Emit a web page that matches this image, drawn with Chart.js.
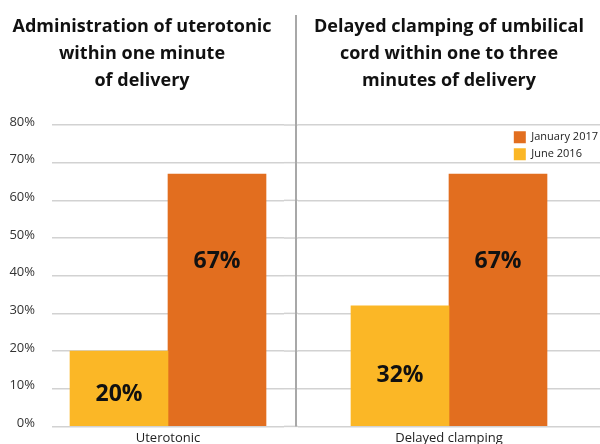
<!DOCTYPE html>
<html lang="en">
<head>
<meta charset="UTF-8">
<title>Uterotonic and delayed clamping</title>
<style>
    body, html {
        margin: 0;
        padding: 0;
        background: #fff;
    }
    #wrap { position: relative; width: 600px; height: 444px; }
    #leftBox { position: absolute; left: 0; top: 0; width: 298px; height: 444px; }
    #rightBox { position: absolute; left: 298px; top: 0; width: 302px; height: 444px; }
</style>
</head>
<body>
<div id="wrap">
    <div id="leftBox"><canvas id="leftChart"></canvas></div>
    <div id="rightBox"><canvas id="rightChart"></canvas></div>
</div>

<script src="https://cdn.jsdelivr.net/npm/chart.js"></script>
<script>
    // data
    const seriesNames = ['June 2016', 'January 2017'];
    const seriesColors = ['#FBB726', '#E26E1F'];
    const categories = ['Uterotonic', 'Delayed clamping'];
    const june2016 = [20, 32];
    const january2017 = [67, 67];
    const yTickValues = [0, 10, 20, 30, 40, 50, 60, 70, 80];
    const leftTitle = ['Administration of uterotonic', 'within one minute', 'of delivery'];
    const rightTitle = ['Delayed clamping of umbilical', 'cord within one to three', 'minutes of delivery'];

    const FONT = '"Open Sans", "DejaVu Sans", sans-serif';
    const GRID = '#d2d2d2';
    Chart.defaults.font.family = FONT;
    Chart.defaults.color = '#222';

    // where the value label sits inside each series' bar (fraction of bar height)
    const labelFractions = [0.42, 0.655];

    const barLabels = {
        id: 'barLabels',
        afterDatasetsDraw(chart) {
            const ctx = chart.ctx;
            const y = chart.scales.y;
            ctx.save();
            ctx.font = 'bold 23px ' + FONT;
            ctx.fillStyle = '#111';
            ctx.textAlign = 'center';
            ctx.textBaseline = 'middle';
            chart.data.datasets.forEach((ds, i) => {
                chart.getDatasetMeta(i).data.forEach((bar, j) => {
                    const v = ds.data[j];
                    ctx.fillText(v + '%', bar.x, y.getPixelForValue(v * labelFractions[i]));
                });
            });
            ctx.restore();
        }
    };

    // grey rule between the two panels; gridlines run on up to it
    const divider = {
        id: 'divider',
        beforeDatasetsDraw(chart) {
            const ctx = chart.ctx;
            const area = chart.chartArea;
            ctx.save();
            ctx.strokeStyle = GRID;
            ctx.lineWidth = 1.5;
            chart.scales.y.ticks.forEach(t => {
                const py = chart.scales.y.getPixelForValue(t.value);
                ctx.beginPath();
                ctx.moveTo(area.right, py);
                ctx.lineTo(chart.width, py);
                ctx.stroke();
            });
            ctx.restore();
        },
        afterDraw(chart) {
            const ctx = chart.ctx;
            ctx.save();
            ctx.strokeStyle = '#a8a8a8';
            ctx.lineWidth = 2;
            ctx.beginPath();
            ctx.moveTo(chart.width - 2, 15);
            ctx.lineTo(chart.width - 2, chart.chartArea.bottom);
            ctx.stroke();
            ctx.restore();
        }
    };

    // push the in-area legend to the top right corner
    const legendRight = {
        id: 'legendRight',
        afterLayout(chart) {
            const lg = chart.legend;
            if (!lg) return;
            lg.left = chart.chartArea.right - lg.width + 8;
            lg.right = chart.chartArea.right + 8;
            lg.top -= 5;
            lg.bottom -= 5;
        }
    };

    function makeDatasets(idx) {
        return [
            { label: seriesNames[0], data: [june2016[idx]], backgroundColor: seriesColors[0] },
            { label: seriesNames[1], data: [january2017[idx]], backgroundColor: seriesColors[1] }
        ];
    }

    function makeOptions(title, showTicks, showLegend) {
        return {
            responsive: true,
            maintainAspectRatio: false,
            animation: false,
            layout: { padding: { left: 0, right: showTicks ? 14 : 0, bottom: -6, top: 0 } },
            datasets: { bar: { barThickness: 98, borderWidth: 0 } },
            plugins: {
                title: {
                    display: true,
                    text: title,
                    color: '#111',
                    font: { size: 18, weight: 'bold', lineHeight: 1.5 },
                    padding: { top: 13, bottom: 31 }
                },
                legend: showLegend ? {
                    display: true,
                    position: 'chartArea',
                    reverse: true,
                    labels: { boxWidth: 12, boxHeight: 12, padding: 5, font: { size: 11 }, color: '#222' }
                } : { display: false },
                tooltip: { enabled: false }
            },
            scales: {
                x: {
                    grid: { display: false, drawTicks: false },
                    border: { display: false },
                    ticks: { font: { size: 13 }, color: '#222', padding: 4 }
                },
                y: {
                    min: 0,
                    max: 80,
                    afterBuildTicks(scale) {
                        scale.ticks = yTickValues.map(v => ({ value: v }));
                    },
                    afterFit(scale) {
                        scale.width = showTicks ? 52 : 0;
                        scale.paddingTop = 0;
                        scale.paddingBottom = 0;
                    },
                    border: { display: false },
                    grid: { color: GRID, lineWidth: 1.5, drawTicks: false },
                    ticks: {
                        display: showTicks,
                        padding: 17,
                        labelOffset: -3,
                        font: { size: 13 },
                        color: '#333',
                        callback: v => v + '%'
                    }
                }
            }
        };
    }

    new Chart(document.getElementById('leftChart'), {
        type: 'bar',
        data: { labels: [categories[0]], datasets: makeDatasets(0) },
        options: makeOptions(leftTitle, true, false),
        plugins: [barLabels, divider]
    });

    new Chart(document.getElementById('rightChart'), {
        type: 'bar',
        data: { labels: [categories[1]], datasets: makeDatasets(1) },
        options: makeOptions(rightTitle, false, true),
        plugins: [barLabels, legendRight]
    });
</script>
</body>
</html>
